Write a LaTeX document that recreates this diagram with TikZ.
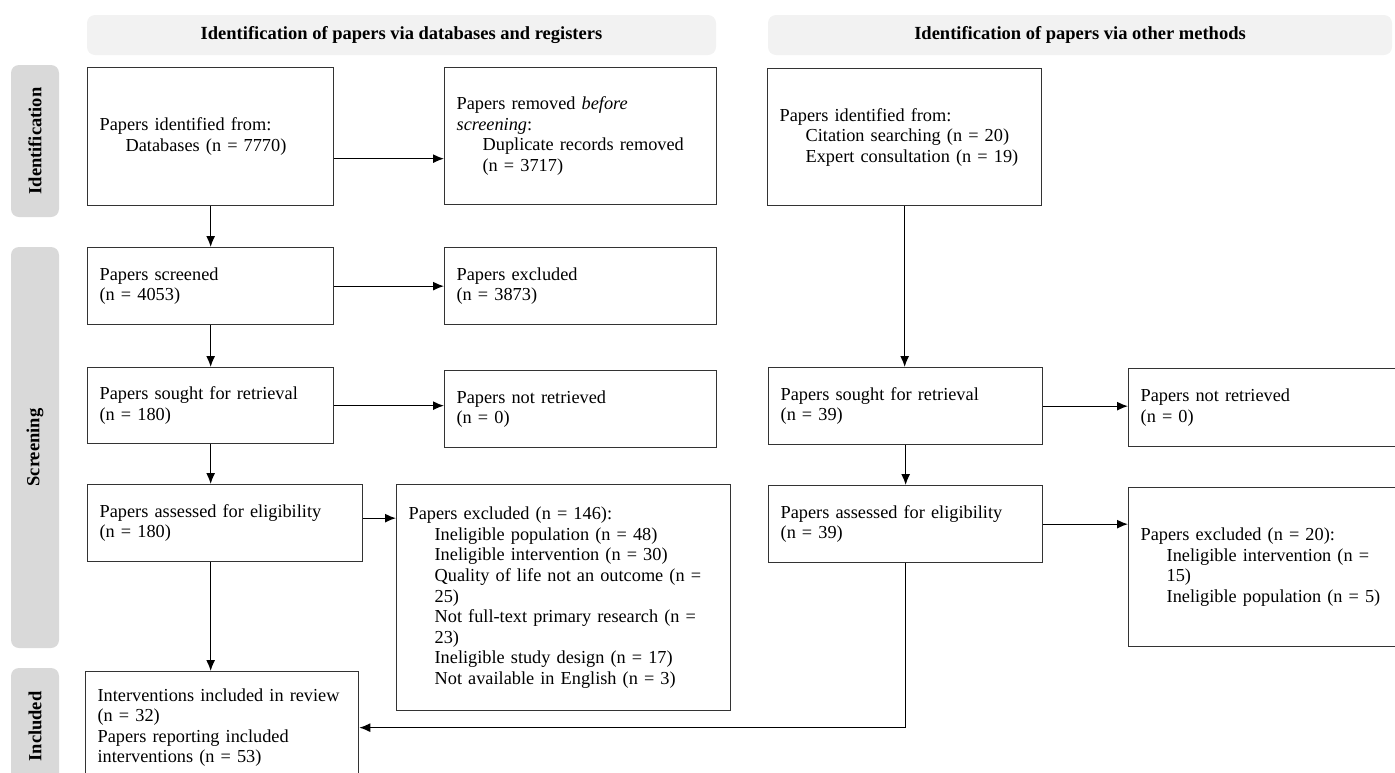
\documentclass[tikz,border=0pt]{standalone}
\usepackage{fontspec}
\setmainfont{Liberation Serif}
\usetikzlibrary{arrows.meta}

\newcommand{\ind}{\hspace*{26pt}}
\tikzset{
  box/.style={draw=black!80, line width=1.3pt, anchor=north west, align=left,
    inner xsep=12pt, inner ysep=0pt, font=\fontsize{18.3}{20.6}\selectfont},
  head/.style={fill=black!5, rounded corners=8pt, inner sep=0pt, minimum height=40,
    font=\bfseries\fontsize{18.5}{21}\selectfont},
  phase/.style={fill=black!15, rounded corners=8pt, inner sep=0pt, rotate=90,
    minimum height=48, font=\bfseries\fontsize{18.5}{21}\selectfont},
  link/.style={->, line width=1.3pt}
}

\begin{document}
\begin{tikzpicture}[x=1pt, y=-1pt, >={Latex[length=11pt,width=9pt]}]
\useasboundingbox (0,0) rectangle (1395,772);
\clip (0,0) rectangle (1395,772);

% header bars
\node[head, minimum width=629] (hdb) at (401.5,35) {Identification of papers via databases and registers};
\node[head, minimum width=624] (hoth) at (1080,35) {Identification of papers via other methods};

% phases
\node[phase, minimum width=152] (pid) at (35,141) {Identification};
\node[phase, minimum width=401] (pscr) at (35,447.5) {Screening};
\node[phase, minimum width=117] (pinc) at (35,726.5) {Included};

% databases and registers
\node[box, minimum width=246, minimum height=138, text width=222] (b1) at (87,67)
  {Papers identified from:\\ \ind Databases (n = 7770)};
\node[box, minimum width=272, minimum height=137, text width=248] (b2) at (444,67)
  {Papers removed \textit{before}\\ \textit{screening}:\\ \ind Duplicate records removed\\ \ind (n = 3717)};
\node[box, minimum width=246, minimum height=77, text width=222] (b3) at (87,247)
  {Papers screened\\ (n = 4053)};
\node[box, minimum width=272, minimum height=77, text width=248] (b4) at (444,247)
  {Papers excluded\\ (n = 3873)};
\node[box, minimum width=246, minimum height=76, text width=222] (b5) at (87,367)
  {Papers sought for retrieval\\ (n = 180)};
\node[box, minimum width=272, minimum height=77, text width=248] (b6) at (444,370)
  {Papers not retrieved\\ (n = 0)};
\node[box, minimum width=275, minimum height=77, text width=251] (b7) at (87,484)
  {Papers assessed for eligibility\\ (n = 180)};
\node[box, minimum width=334, minimum height=226, text width=310] (b8) at (396,484)
  {Papers excluded (n = 146):\\
   \ind Ineligible population (n = 48)\\
   \ind Ineligible intervention (n = 30)\\
   \ind Quality of life not an outcome (n =\\
   \ind 25)\\
   \ind Not full-text primary research (n =\\
   \ind 23)\\
   \ind Ineligible study design (n = 17)\\
   \ind Not available in English (n = 3)};
\node[box, minimum width=273, minimum height=112, text width=249] (b9) at (85,671)
  {Interventions included in review\\ (n = 32)\\ Papers reporting included\\ interventions (n = 53)};

% other methods
\node[box, minimum width=274, minimum height=137, text width=250] (r1) at (767,68)
  {Papers identified from:\\ \ind Citation searching (n = 20)\\ \ind Expert consultation (n = 19)};
\node[box, minimum width=274, minimum height=77, text width=250] (r2) at (768,367)
  {Papers sought for retrieval\\ (n = 39)};
\node[box, minimum width=280, minimum height=78, text width=256] (r3) at (1128,368)
  {Papers not retrieved\\ (n = 0)};
\node[box, minimum width=274, minimum height=77, text width=250] (r4) at (768,485)
  {Papers assessed for eligibility\\ (n = 39)};
\node[box, minimum width=280, minimum height=159, text width=256] (r5) at (1128,487)
  {Papers excluded (n = 20):\\
   \ind Ineligible intervention (n =\\
   \ind 15)\\
   \ind Ineligible population (n = 5)};

% connectors
\draw[link] ([yshift=-22pt]b1.east) -- ([yshift=-22pt]b1.east -| b2.west);
\draw[link] (b1.south) -- (b3.north);
\draw[link] (b3.east) -- (b3.east -| b4.west);
\draw[link] (b3.south) -- (b5.north);
\draw[link] (b5.east) -- (b5.east -| b6.west);
\draw[link] (b5.south) -- (b5.south |- b7.north);
\draw[link] ([yshift=5pt]b7.east) -- ([yshift=5pt]b7.east -| b8.west);
\draw[link] (b5.south |- b7.south) -- (b5.south |- b9.north);
\draw[link] (r1.south) -- (r1.south |- r2.north);
\draw[link] (r2.east) -- (r2.east -| r3.west);
\draw[link] (r2.south) -- (r4.north);
\draw[link] (r4.east) -- (r4.east -| r5.west);
\draw[link] (r4.south) |- (b9.east);
\end{tikzpicture}
\end{document}
